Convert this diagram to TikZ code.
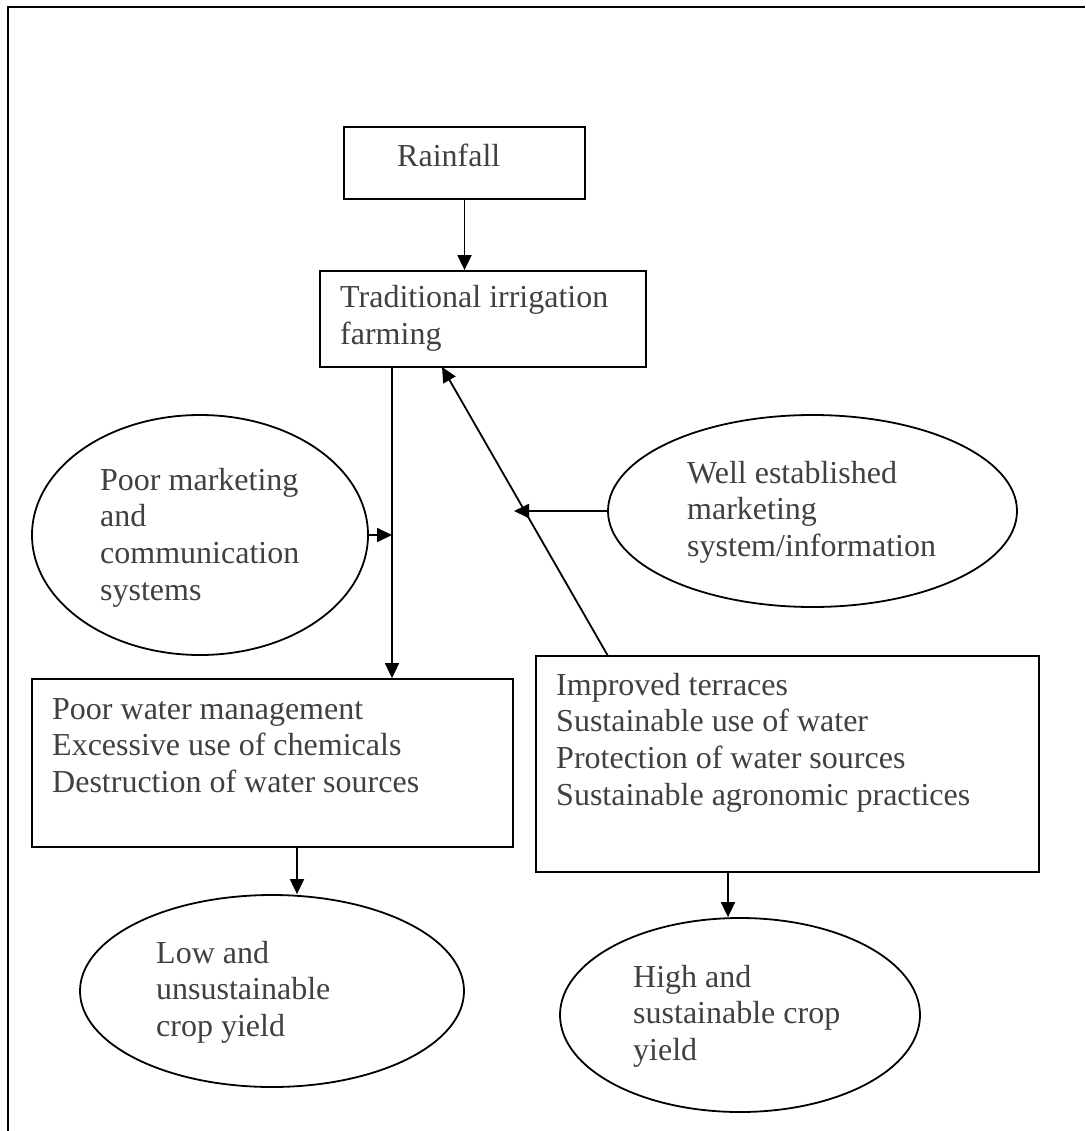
\documentclass[tikz,border=0pt]{standalone}
\usepackage{fontspec}
\setmainfont{Liberation Serif}
\usetikzlibrary{arrows.meta,shapes.geometric}
\definecolor{txt}{RGB}{64,64,64}
\newcommand{\mylines}[1]{\begin{tabular}[t]{@{}l@{}}#1\end{tabular}}
\begin{document}
\begin{tikzpicture}[x=1pt,y=-1pt,
  boxshape/.style={draw,line width=1.8pt,rectangle,inner sep=0pt},
  ellshape/.style={draw,line width=1.8pt,ellipse,inner sep=0pt},
  lbl/.style={anchor=base west,inner sep=0pt,text=txt,font={\fontsize{32}{36.7}\selectfont}},
  arr/.style={line width=1.8pt,-{Triangle[length=15pt,width=14pt]}},
  frameline/.style={line width=2pt}]
\useasboundingbox (0,0) rectangle (1085,1131);
% frame
\coordinate (ftr) at (1085,7);
\coordinate (ftl) at (8,7);
\coordinate (fbl) at (8,1131);
\draw[frameline] (ftr) -- (ftl) -- (fbl);
% shapes
\node[boxshape,minimum width=241pt,minimum height=72pt] (rain) at (464.5,163) {};
\node[boxshape,minimum width=326pt,minimum height=96pt] (trad) at (483,319) {};
\node[ellshape,minimum width=336pt,minimum height=240pt] (pmk) at (200,535) {};
\node[ellshape,minimum width=409pt,minimum height=192pt] (well) at (812.5,511) {};
\node[boxshape,minimum width=481pt,minimum height=168pt] (pw) at (272.5,763) {};
\node[boxshape,minimum width=503pt,minimum height=216pt] (imp) at (787.5,764) {};
\node[ellshape,minimum width=384pt,minimum height=192pt] (low) at (272,991) {};
\node[ellshape,minimum width=360pt,minimum height=194pt] (high) at (740,1015) {};
% texts
\node[lbl] (train) at (397,167) {Rainfall};
\node[lbl] (ttrad) at (340,308) {\mylines{Traditional irrigation\\farming}};
\node[lbl] (tpmk) at (100,490) {\mylines{Poor marketing\\and\\communication\\systems}};
\node[lbl] (twell) at (687,483) {\mylines{Well established\\marketing\\system/information}};
\node[lbl] (tpw) at (52,719) {\mylines{Poor water management\\Excessive use of chemicals\\Destruction of water sources}};
\node[lbl] (timp) at (556,695) {\mylines{Improved terraces\\Sustainable use of water\\Protection of water sources\\Sustainable agronomic practices}};
\node[lbl] (tlow) at (156,963) {\mylines{Low and\\unsustainable\\crop yield}};
\node[lbl] (thigh) at (633,987) {\mylines{High and\\sustainable crop\\yield}};
% connector points
\coordinate (tdown) at (392,367);
\coordinate (tin) at (442,367);
\coordinate (iup) at (608,656);
\coordinate (wtip) at (514,511);
\coordinate (pwdown) at (297,847);
\coordinate (imdown) at (728,872);
% connectors
\draw[arr] (rain.south) -- (rain.south |- trad.north);
\draw[arr] (tdown) -- (tdown |- pw.north);
\draw[arr] (pmk.east) -- (pmk.east -| tdown);
\draw[arr] (iup) -- (tin);
\draw[arr] (well.west) -- (wtip);
\draw[arr] (pwdown) -- (pwdown |- low.north);
\draw[arr] (imdown) -- (imdown |- high.north);
\end{tikzpicture}
\end{document}
